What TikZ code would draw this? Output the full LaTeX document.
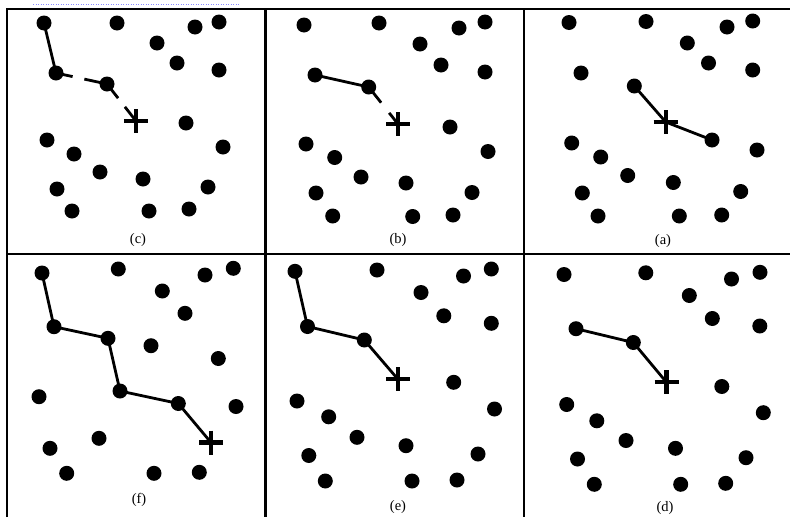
\documentclass[tikz,border=0pt]{standalone}
\usepackage{fontspec}
\setmainfont{Liberation Serif}
\usepackage{tikz}

\begin{document}
\begin{tikzpicture}[x=1pt,y=-1pt,
  dot/.style={circle,fill=black,inner sep=0pt,minimum size=15pt},
  hop/.style={line width=2.8pt},
  panelrule/.style={line width=2.6pt},
  lbl/.style={font=\fontsize{14.5}{16}\selectfont},
  goal/.pic={\draw[line width=4.2pt] (-12,0) -- (12,0) (0,-12) -- (0,12);}]
  \useasboundingbox (0,0) rectangle (790,517);
  % frame: 2 rows x 3 panels (right and bottom edges cut off)
  \draw[blue!45,dotted,line width=0.5pt] (33,4.5) -- (240,4.5);
  \draw[panelrule] (7,517) -- (7,9) -- (790,9);
  \draw[panelrule] (265.5,9) -- (265.5,517);
  \draw[panelrule] (524,9) -- (524,517);
  \draw[panelrule] (7,254) -- (790,254);

  % panel (c)
  \foreach \n/\x/\y in {1/44/23, 2/117/23, 3/195/27, 4/219/22, 5/157/43, 6/177/63, 7/219/70,
      8/56/73, 9/107/84, 11/186/123, 12/47/140, 13/74/154, 14/100/172, 15/143/179, 16/223/147,
      17/57/189, 18/208/187, 19/72/211, 20/149/211, 21/189/209}
    \node[dot] (c\n) at (\x,\y) {};
  \coordinate (cX) at (136,121);
  \draw[hop] (c1.center) -- (c8.center);
  \draw[hop,dash pattern=on 17pt off 12pt on 40pt off 10pt] (c8.center) -- (c9.center);
  \draw[hop,dash pattern=on 18pt off 11pt on 40pt off 1pt] (c9.center) -- (cX);
  \pic at (cX) {goal};
  \node[lbl] (labc) at (138,240) {(c)};

  % panel (b)
  \foreach \n/\x/\y in {1/304/25, 2/379/23, 3/459/28, 4/485/22, 5/420/44, 6/441/65, 7/485/72,
      8/315/75, 9/368.7/87, 11/450/127, 12/306/144, 13/334.7/157.5, 14/361/177, 15/406/183,
      16/488/151.5, 17/316/193, 18/472/192.5, 19/332.7/216, 20/412.7/216.5, 21/453/215}
    \node[dot] (b\n) at (\x,\y) {};
  \coordinate (bX) at (398,124);
  \draw[hop] (b8.center) -- (b9.center);
  \draw[hop,dash pattern=on 20pt off 13pt on 40pt off 1pt] (b9.center) -- (bX);
  \pic at (bX) {goal};
  \node[lbl] (labb) at (398,240) {(b)};

  % panel (a)
  \foreach \n/\x/\y in {1/569/22.5, 2/646/21.5, 3/727/27, 4/752.7/21, 5/687.3/43, 6/708.5/63,
      7/752.7/70, 8/581/73, 9/634.3/86, 11/712/140, 12/571.7/143, 13/600.7/157, 14/627.7/175.5,
      15/673.3/182.5, 16/757/150, 17/582.3/193, 18/740.7/191.5, 19/598/216, 20/679.3/216,
      21/721.7/215}
    \node[dot] (a\n) at (\x,\y) {};
  \coordinate (aX) at (665.7,122);
  \draw[hop] (a9.center) -- (aX) -- (a11.center);
  \pic at (aX) {goal};
  \node[lbl] (laba) at (663,241) {(a)};

  % panel (f)
  \foreach \n/\x/\y in {1/42/273, 2/118.3/269, 3/205/275, 4/233.3/268.3, 5/162.3/291, 6/185/313.3,
      7/218.3/358.5, 8/54/326.7, 9/108/338.3, 10/151/345.7, 11/120/391, 12/178.3/403.5,
      13/39/396.7, 14/236/406.5, 15/99/438.3, 16/50/448.3, 17/66.7/473.3, 18/154/473.3,
      19/199.3/472.3}
    \node[dot] (f\n) at (\x,\y) {};
  \coordinate (fX) at (211,442.5);
  \draw[hop] (f1.center) -- (f8.center) -- (f9.center) -- (f11.center) -- (f12.center) -- (fX);
  \pic at (fX) {goal};
  \node[lbl] (labf) at (139,500) {(f)};

  % panel (e)
  \foreach \n/\x/\y in {1/295/271.3, 2/377/270, 3/463.5/276, 4/491.3/269, 5/421/292.5,
      6/443.8/315.8, 7/491.3/323.3, 8/307.5/326.5, 9/364.3/340, 11/453.7/382.3, 12/297/401,
      13/328.7/416.8, 14/357/437.3, 15/406/445.7, 16/494.5/409, 17/308.8/455.5, 18/478/454,
      19/325.3/481, 20/412/481, 21/457/480}
    \node[dot] (e\n) at (\x,\y) {};
  \coordinate (eX) at (398,379.3);
  \draw[hop] (e1.center) -- (e8.center) -- (e9.center) -- (eX);
  \pic at (eX) {goal};
  \node[lbl] (labe) at (398,507) {(e)};

  % panel (d)
  \foreach \n/\x/\y in {1/564/274.5, 2/645.8/272.8, 3/731.5/279, 4/760/272.3, 5/689.3/295.5,
      6/712.3/318.5, 7/759.8/326, 8/576/328.7, 9/633.3/342.5, 11/721.8/386.5, 12/566.7/404.5,
      13/596.8/420.8, 14/626/440.5, 15/675.5/448.3, 16/763.3/412.7, 17/577.5/459, 18/746/457.7,
      19/594.3/484.3, 20/680.7/484.3, 21/725.7/483.3}
    \node[dot] (d\n) at (\x,\y) {};
  \coordinate (dX) at (666.5,382.3);
  \draw[hop] (d8.center) -- (d9.center) -- (dX);
  \pic at (dX) {goal};
  \node[lbl] (labd) at (665,508) {(d)};
\end{tikzpicture}
\end{document}
